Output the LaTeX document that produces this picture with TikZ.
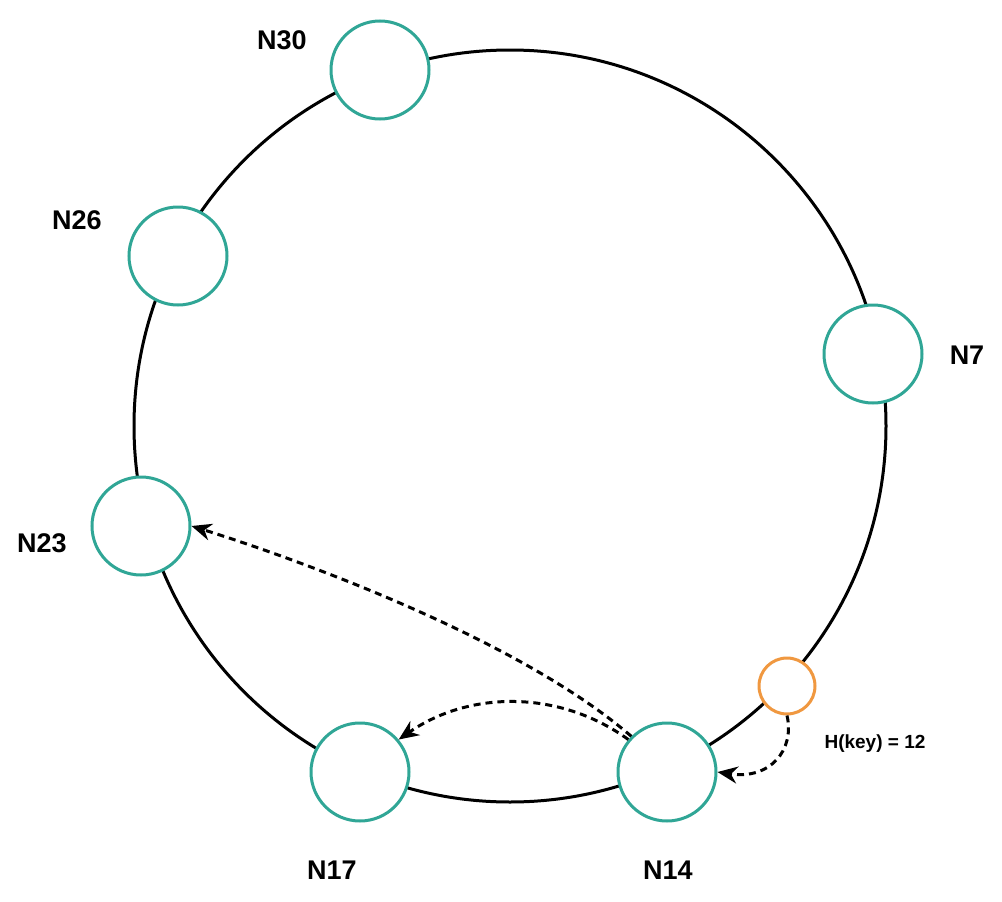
\documentclass[tikz,border=0pt]{standalone}
\usepackage{fontspec}
\setmainfont{Liberation Sans}
\usetikzlibrary{arrows.meta}
\definecolor{ringteal}{RGB}{48,166,150}
\definecolor{keyorange}{RGB}{240,152,64}
\tikzset{
	>={Stealth[length=20pt,width=17pt]},
	ring/.style={draw=black, line width=3pt},
	peer/.style={circle, draw=ringteal, line width=3pt, fill=white,
		minimum size=98pt, inner sep=0pt},
	keypt/.style={circle, draw=keyorange, line width=3pt, fill=white,
		minimum size=56pt, inner sep=0pt},
	tag/.style={font=\bfseries\fontsize{27}{31}\selectfont},
	hop/.style={->, line width=3pt, dash pattern=on 7pt off 5pt},
}
\begin{document}
\begin{tikzpicture}[x=1pt,y=-1pt]
\useasboundingbox (0,0) rectangle (1002,902);
\draw[ring] (510,426) circle[radius=376];

\node[peer] (N30) at (380,70) {};
\node[peer] (N26) at (178,256) {};
\node[peer] (N7) at (873,354) {};
\node[peer] (N23) at (141,526) {};
\node[peer] (N17) at (360,772) {};
\node[peer] (N14) at (667,772) {};
\node[keypt] (key) at (787,686) {};

\node[tag] (lN30) at (282,40) {N30};
\node[tag] (lN26) at (77,220) {N26};
\node[tag] (lN7) at (967,355) {N7};
\node[tag] (lN23) at (42,543) {N23};
\node[tag] (lN17) at (332,870) {N17};
\node[tag] (lN14) at (668,870) {N14};
\node[font=\bfseries\fontsize{19}{22}\selectfont] (lkey) at (875,744) {H(key) = 12};

\draw[hop] (N14.135) .. controls (520,640) and (300,560) .. (N23.east);
\draw[hop] (N14.140) .. controls (560,690) and (470,690) .. (N17.40);
\draw[hop] (key.south) .. controls (795,750) and (770,780) .. (N14.east);
\end{tikzpicture}
\end{document}
